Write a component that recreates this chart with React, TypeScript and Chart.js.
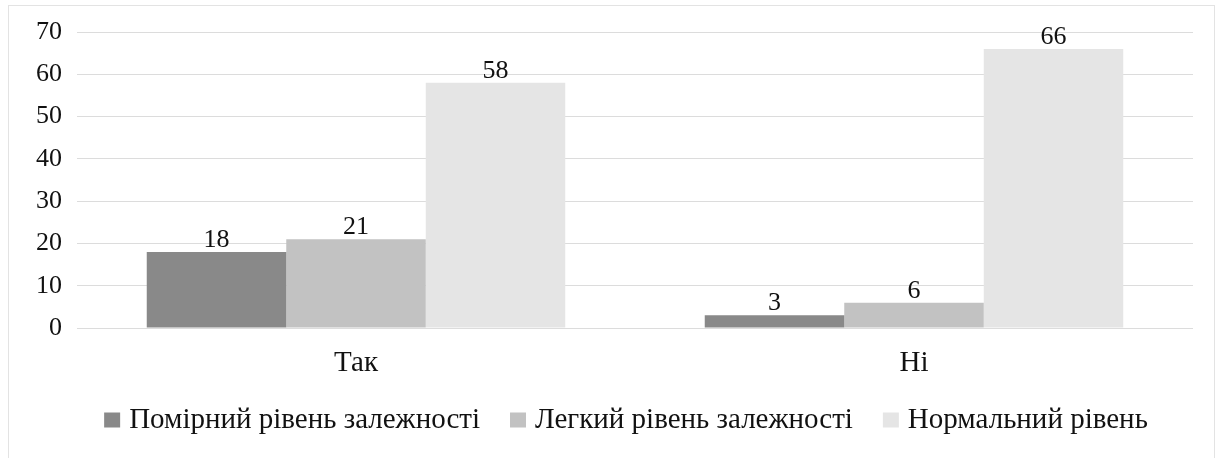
import React, { useEffect, useRef } from "react";
import { Chart, registerables } from "chart.js";

Chart.register(...registerables);

// Categories (answers) and the three dependency-level series
const categories = ["Так", "Ні"];
const seriesNames = [
  "Помірний рівень залежності",
  "Легкий рівень залежності",
  "Нормальний рівень",
];
const moderateLevel = [18, 3];
const mildLevel = [21, 6];
const normalLevel = [58, 66];
const yTickValues = [0, 10, 20, 30, 40, 50, 60, 70];

const seriesColors = ["#898989", "#c2c2c2", "#e5e5e5"];
const FONT_FAMILY = "'Liberation Serif', 'Times New Roman', serif";
const TEXT_COLOR = "#111111";
const NUMBER_SIZE = 26;
const WORD_SIZE = 29;

// Value written above each bar
const valueLabels = {
  id: "valueLabels",
  afterDatasetsDraw(chart: any) {
    const ctx = chart.ctx;
    ctx.save();
    ctx.font = `${NUMBER_SIZE}px ${FONT_FAMILY}`;
    ctx.fillStyle = TEXT_COLOR;
    ctx.textAlign = "center";
    ctx.textBaseline = "alphabetic";
    chart.data.datasets.forEach((ds: any, i: number) => {
      const meta = chart.getDatasetMeta(i);
      meta.data.forEach((bar: any, j: number) => {
        ctx.fillText(String(ds.data[j]), bar.x, bar.y - 5);
      });
    });
    ctx.restore();
  },
};

// Single-row legend under the axis: square swatch followed by the series name
const legendRow = {
  id: "legendRow",
  afterDraw(chart: any, _args: any, opts: any) {
    const ctx = chart.ctx;
    ctx.save();
    ctx.font = `${opts.fontSize}px ${FONT_FAMILY}`;
    const items = chart.data.datasets.map((ds: any) => ({
      label: ds.label as string,
      color: ds.backgroundColor as string,
      w: ctx.measureText(ds.label).width,
    }));
    const total =
      items.reduce((s: number, it: any) => s + opts.boxW + opts.gap + it.w, 0) +
      opts.itemGap * (items.length - 1);
    let x = (chart.chartArea.left + chart.chartArea.right) / 2 + opts.shift - total / 2;
    const y = opts.y;
    items.forEach((it: any) => {
      ctx.fillStyle = it.color;
      ctx.fillRect(x, y - opts.boxH / 2, opts.boxW, opts.boxH);
      x += opts.boxW + opts.gap;
      ctx.fillStyle = TEXT_COLOR;
      ctx.textAlign = "left";
      ctx.textBaseline = "middle";
      ctx.fillText(it.label, x, y);
      x += it.w + opts.itemGap;
    });
    ctx.restore();
  },
};

export default function App() {
  const canvasRef = useRef<HTMLCanvasElement | null>(null);

  useEffect(() => {
    if (!canvasRef.current) return;
    const seriesValues = [moderateLevel, mildLevel, normalLevel];
    const chart = new Chart(canvasRef.current, {
      type: "bar",
      data: {
        labels: categories,
        datasets: seriesNames.map((name, i) => ({
          label: name,
          data: seriesValues[i],
          backgroundColor: seriesColors[i],
          borderWidth: 0,
          categoryPercentage: 0.75,
          barPercentage: 1,
        })),
      },
      options: {
        responsive: false,
        animation: false,
        layout: { padding: { left: 0, right: 21, top: 26, bottom: 70 } },
        plugins: {
          legend: { display: false },
          tooltip: { enabled: false },
          legendRow: {
            fontSize: WORD_SIZE,
            boxW: 16,
            boxH: 15,
            gap: 9,
            itemGap: 30,
            shift: -9,
            y: 414,
          },
        } as any,
        scales: {
          x: {
            grid: { display: false, drawTicks: false },
            border: { display: false },
            ticks: {
              color: TEXT_COLOR,
              font: { family: FONT_FAMILY, size: WORD_SIZE },
              padding: 18,
            },
            afterFit(scale: any) {
              scale.height = 60;
            },
          },
          y: {
            min: 0,
            max: 70,
            grid: { color: "#dcdcdc", lineWidth: 1, drawTicks: false },
            border: { display: false },
            afterBuildTicks(scale: any) {
              scale.ticks = yTickValues.map((v) => ({ value: v }));
            },
            ticks: {
              color: TEXT_COLOR,
              font: { family: FONT_FAMILY, size: NUMBER_SIZE },
              padding: 15,
            },
            afterFit(scale: any) {
              scale.width = 68;
              scale.paddingTop = 0;
              scale.paddingBottom = 0;
            },
          },
        },
      },
      plugins: [valueLabels, legendRow],
    });
    return () => chart.destroy();
  }, []);

  return (
    <div
      style={{
        position: "absolute",
        left: 8,
        top: 5,
        width: 1207,
        height: 453,
        boxSizing: "border-box",
        border: "1px solid #e3e3e3",
        borderBottom: "none",
        background: "#ffffff",
      }}
    >
      <canvas ref={canvasRef} width={1205} height={452} style={{ display: "block" }} />
    </div>
  );
}
